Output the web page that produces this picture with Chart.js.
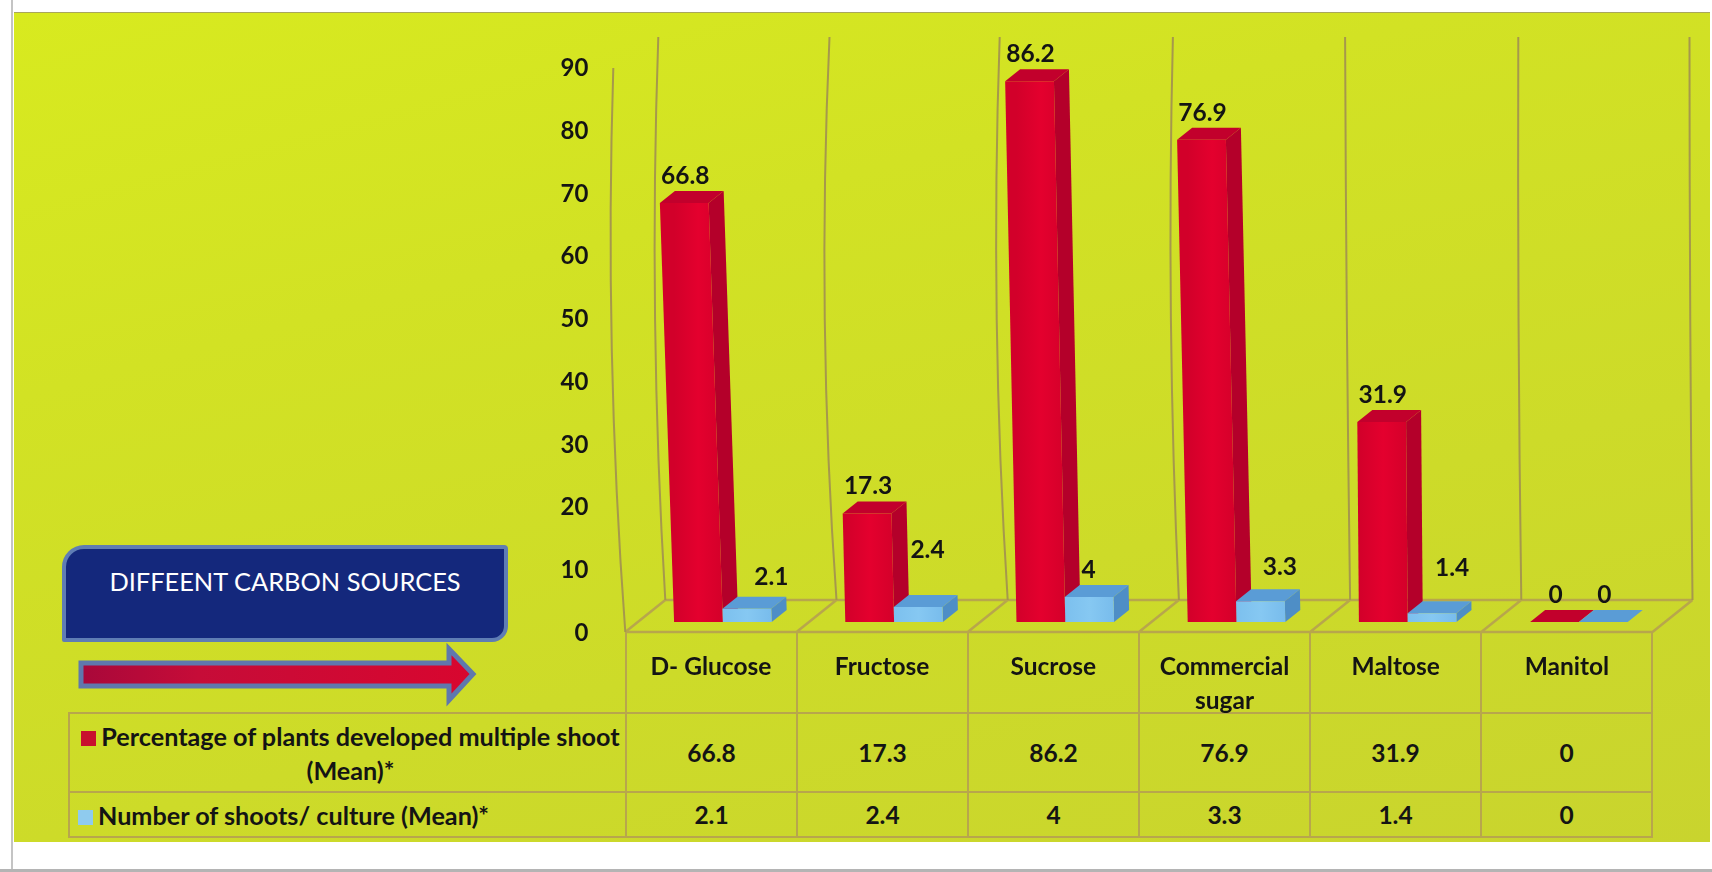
<!DOCTYPE html>
<html>
<head>
<meta charset="utf-8">
<title>Different carbon sources</title>
<script src="https://cdn.jsdelivr.net/npm/chart.js@4"></script>
<style>
  html, body { margin: 0; padding: 0; background: #fff; }
  body { width: 1712px; height: 872px; position: relative; overflow: hidden; font-family: Lato, sans-serif; color: #141414; }
  .edge-left { position: absolute; left: 11px; top: 0; width: 2px; height: 872px; background: #c4c4c4; }
  .edge-bottom { position: absolute; left: 0; top: 869px; width: 1712px; height: 3px; background: #b4b4b4; }
  .panel {
    position: absolute; left: 14px; top: 12px; width: 1696px; height: 830px;
    background: linear-gradient(165deg, #d8ea1f 0%, #d2e224 30%, #cddb29 65%, #c9d42e 100%);
    border-top: 1px solid #a9a65c; box-sizing: border-box;
  }
  #dataTable {
    position: absolute; left: 68px; top: 632px; width: 1585px;
    border-collapse: collapse; table-layout: fixed;
    font-size: 24.5px; font-weight: 700;
  }
  #dataTable td { border: 2.5px solid #b8a64c; text-align: center; padding: 0; line-height: 34px; }
  #dataTable tr.head td { height: 80px; border-top: none; }
  #dataTable tr.head td.blank { border-left: none; }
  #dataTable tr.row0 td { height: 77px; }
  #dataTable tr.row1 td { height: 43px; }
  #dataTable td.name { padding: 0 2px 0 8px; font-size: 25.2px; }
  #dataTable tr.row1 td.name { text-align: left; }
  .swatch { display: inline-block; width: 15px; height: 15px; margin-right: 5px; }
  .titleBox {
    position: absolute; left: 62px; top: 545px; width: 446px; height: 97px; box-sizing: border-box;
    background: #14287c; border: 4px solid #5f7db4;
    border-radius: 22px 4px 16px 2px; color: #fff;
    font-size: 25.4px; text-align: center; padding-top: 16px; line-height: 32px;
  }
  #arrow { position: absolute; left: 70px; top: 640px; }
  #chart { position: absolute; left: 0; top: 0; }
</style>
</head>
<body>
<div class="edge-left"></div>
<div class="edge-bottom"></div>
<div class="panel"></div>
<div class="titleBox">DIFFEENT CARBON SOURCES</div>
<svg id="arrow" width="420" height="70">
  <defs>
    <linearGradient id="shaftFill" x1="0" x2="1" y1="0" y2="0">
      <stop offset="0" stop-color="#a8083a"/>
      <stop offset="0.3" stop-color="#c60c38"/>
      <stop offset="1" stop-color="#d8062f"/>
    </linearGradient>
  </defs>
  <path d="M11 23 H379 V9 L403 34 L379 60 V46 H11 Z" fill="url(#shaftFill)" stroke="#5f78ad" stroke-width="5"/>
</svg>
<table id="dataTable"></table>
<canvas id="chart" width="1712" height="872"></canvas>

<script>
const categories = ["D- Glucose", "Fructose", "Sucrose", ["Commercial", "sugar"], "Maltose", "Manitol"];
const percentPlants = [66.8, 17.3, 86.2, 76.9, 31.9, 0];
const shootsPerCulture = [2.1, 2.4, 4, 3.3, 1.4, 0];
const seriesNames = [
  "Percentage of plants developed multiple shoot (Mean)*",
  "Number of shoots/ culture (Mean)*",
];

const FONT = "Lato, sans-serif";
const TEXT = "#141414";
const LINE = "#b8a64c";

// depth of the 3D boxes
const DEPTH_X = 15;
const DEPTH_Y = -12;

// how far each column of bars tips to the left, px per px of height
const barLean = [0.034, 0.024, 0.021, 0.022, 0.008, 0];

const faceColors = [
  { front: ["#d2002a", "#e4002e", "#d4002a"], side: "#b4002a", top: "#c2002c" },
  { front: ["#7cc0ee", "#86c8f2", "#78bcec"], side: "#4e8ec6", top: "#5a9cd6" },
];

function polygon(ctx, pts, fill) {
  ctx.beginPath();
  pts.forEach(([x, y], i) => (i ? ctx.lineTo(x, y) : ctx.moveTo(x, y)));
  ctx.closePath();
  ctx.fillStyle = fill;
  ctx.fill();
}

function drawBox(ctx, el, col, colors) {
  const { x, y, base, width } = el.getProps(["x", "y", "base", "width"], true);
  const l = x - width / 2;
  const r = x + width / 2;
  const lean = (base - y) * barLean[col];

  polygon(ctx, [[r, base], [r + DEPTH_X, base + DEPTH_Y], [r + DEPTH_X - lean, y + DEPTH_Y], [r - lean, y]], colors.side);
  polygon(ctx, [[l - lean, y], [l - lean + DEPTH_X, y + DEPTH_Y], [r - lean + DEPTH_X, y + DEPTH_Y], [r - lean, y]], colors.top);

  if (base - y > 0.5) {
    const grad = ctx.createLinearGradient(l, 0, r, 0);
    colors.front.forEach((c, i) => grad.addColorStop(i / 2, c));
    polygon(ctx, [[l, base], [r, base], [r - lean, y], [l - lean, y]], grad);
  }
}

// Bars with a lit front, a shaded side and a top face.
class Box3DController extends Chart.BarController {
  draw() {
    // the chart paints series last-to-first, the blue boxes have to sit over the red sides
    if (this.index !== 0) return;
    const ctx = this.chart.ctx;
    this.chart.data.datasets.forEach((ds, i) => {
      this.chart.getDatasetMeta(i).data.forEach((el, col) => drawBox(ctx, el, col, faceColors[i]));
    });
  }
}
Box3DController.id = "box3d";
Box3DController.defaults = Chart.BarController.defaults;
Chart.register(Box3DController);

// floor and back wall of the 3D plot
const wallPlugin = {
  id: "wall",
  beforeDatasetsDraw(chart) {
    const { ctx, scales } = chart;
    const step = scales.x.width / categories.length;
    const frontY = scales.y.bottom + 10;
    const backY = frontY + DEPTH_Y * 2.67;
    const frontX = (i) => scales.x.left - 12 + i * step;
    const backX = (i) => frontX(i) + 40;
    const topY = 37;
    const tops = [-7, -7, -8, -6, -5, -3, -3];
    const bows = [-17, -20, -18, -13, -4, -4, -3];

    ctx.save();
    ctx.strokeStyle = LINE;
    ctx.lineWidth = 2.5;

    ctx.beginPath();
    ctx.moveTo(frontX(0), frontY);
    ctx.lineTo(frontX(6), frontY);
    ctx.moveTo(backX(0), backY);
    ctx.lineTo(backX(6), backY);
    for (let i = 0; i <= 6; i++) {
      ctx.moveTo(frontX(i), frontY);
      ctx.lineTo(backX(i), backY);
    }
    ctx.stroke();

    ctx.lineWidth = 2;
    ctx.strokeStyle = "#a6984c";
    ctx.beginPath();
    ctx.moveTo(frontX(0), frontY);
    ctx.quadraticCurveTo(frontX(0) - 21, 350, frontX(0) - 12, 68);
    for (let i = 0; i <= 6; i++) {
      ctx.moveTo(backX(i), backY);
      ctx.quadraticCurveTo(backX(i) + bows[i], 320, backX(i) + tops[i], topY);
    }
    ctx.stroke();
    ctx.restore();
  },
};

// value labels, the blue ones sit at hand-placed spots clear of the red boxes
const blueLabelShift = [[24, -20], [9, -45], [-1, -15], [19, -22], [20, -33], [1, -15]];

const valueLabelPlugin = {
  id: "valueLabels",
  afterDatasetsDraw(chart) {
    const ctx = chart.ctx;
    ctx.save();
    ctx.font = `700 24.5px ${FONT}`;
    ctx.fillStyle = TEXT;
    ctx.textAlign = "center";
    ctx.textBaseline = "middle";
    chart.getDatasetMeta(0).data.forEach((el, col) => {
      const lean = (el.base - el.y) * barLean[col];
      ctx.fillText(percentPlants[col], el.x - lean + 1, el.y + DEPTH_Y - 15);
    });
    chart.getDatasetMeta(1).data.forEach((el, col) => {
      const [dx, dy] = blueLabelShift[col];
      ctx.fillText(shootsPerCulture[col], el.x + dx, el.y + DEPTH_Y + dy);
    });
    ctx.restore();
  },
};

new Chart(document.getElementById("chart"), {
  type: "box3d",
  data: {
    labels: categories,
    datasets: [
      { label: seriesNames[0], data: percentPlants },
      { label: seriesNames[1], data: shootsPerCulture },
    ],
  },
  options: {
    responsive: false,
    animation: false,
    events: [],
    datasets: { box3d: { barPercentage: 1, categoryPercentage: 0.57 } },
    layout: { padding: { left: 0, right: 47.5, top: 57.5, bottom: 0 } },
    plugins: { legend: { display: false }, tooltip: { enabled: false }, title: { display: false } },
    scales: {
      x: {
        type: "category",
        offset: true,
        afterFit: (scale) => { scale.height = 250; },
        grid: { display: false },
        border: { display: false },
        ticks: {
          autoSkip: false,
          maxRotation: 0,
          minRotation: 0,
          padding: 20.5,
          labelOffset: -12,
          color: TEXT,
          font: { family: FONT, size: 24.5, weight: "700", lineHeight: 34 / 24.5 },
        },
      },
      y: {
        type: "linear",
        min: 0,
        max: 90,
        afterFit: (scale) => { scale.width = 637.3; },
        grid: { display: false },
        border: { display: false },
        ticks: {
          stepSize: 10,
          padding: 41,
          labelOffset: 11,
          color: TEXT,
          font: { family: FONT, size: 24, weight: "700" },
        },
      },
    },
  },
  plugins: [wallPlugin, valueLabelPlugin],
});

// data table under the plot, its first row holds the axis labels
function buildTable() {
  const table = document.getElementById("dataTable");
  const cols = `<colgroup><col style="width:557px">${categories.map(() => '<col style="width:171px">').join("")}</colgroup>`;
  const head = `<tr class="head"><td class="blank"></td>${categories.map(() => "<td></td>").join("")}</tr>`;
  const rows = [percentPlants, shootsPerCulture].map((values, i) => {
    const swatch = ["#c8102e", "#8fcbee"][i];
    const name = `<td class="name"><span class="swatch" style="background:${swatch}"></span>${seriesNames[i]}</td>`;
    return `<tr class="row${i}">${name}${values.map((v) => `<td>${v}</td>`).join("")}</tr>`;
  });
  table.innerHTML = cols + head + rows.join("");
}
buildTable();
</script>
</body>
</html>
